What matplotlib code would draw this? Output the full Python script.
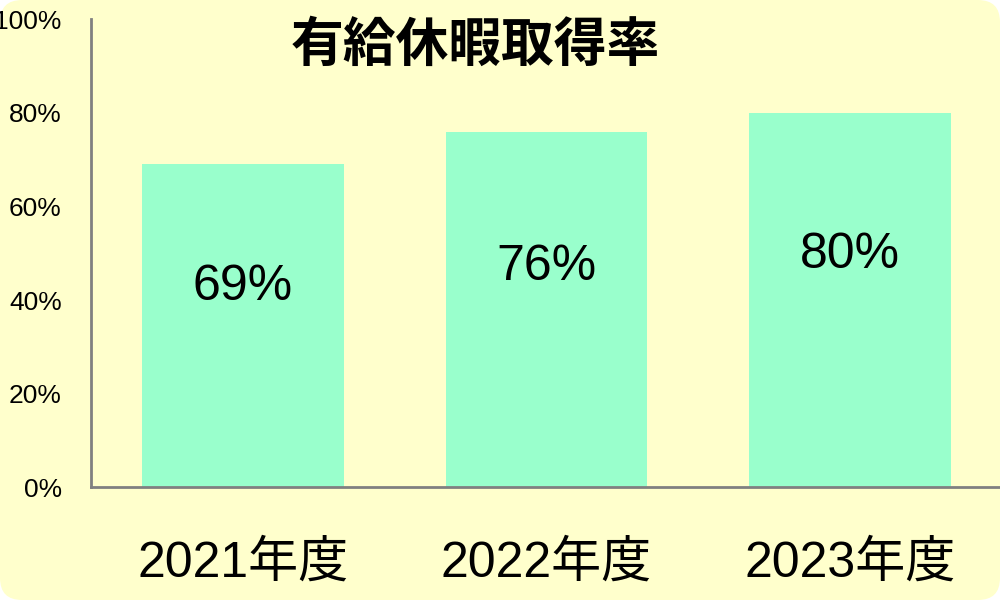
import matplotlib
matplotlib.use('Agg')
import matplotlib.pyplot as plt
from matplotlib.patches import FancyBboxPatch

# 有給休暇取得率
years = ['2021年度', '2022年度', '2023年度']
rates = [69, 76, 80]
yticks = [0, 20, 40, 60, 80, 100]

plt.rcParams['font.family'] = ['Liberation Sans', 'Noto Sans CJK JP', 'DejaVu Sans']

fig = plt.figure(figsize=(10, 6), dpi=100, facecolor='white')
bg = FancyBboxPatch((0, 0), 1000, 600, boxstyle='round,pad=0,rounding_size=22',
                    transform=None, facecolor='#FFFFCC', edgecolor='none', zorder=-10)
fig.patches.append(bg)

ax = fig.add_axes([0.091, 0.188, 0.911, 0.78])
ax.set_facecolor('none')
ax.set_zorder(1)

x = range(len(years))
ax.bar(x, rates, width=0.665, color='#99FFCC', zorder=2)
for i, v in zip(x, rates):
    ax.text(i, v * 0.62, f'{v}%', ha='center', va='center', fontsize=36, color='black', zorder=3)

ax.set_xlim(-0.5, 2.5)
ax.set_ylim(0, 100)
ax.set_yticks(yticks)
ax.set_yticklabels([f'{t}%' for t in yticks], fontsize=19)
ax.set_xticks(list(x))
ax.set_xticklabels(years, fontsize=36)
ax.tick_params(axis='y', length=0, pad=21)
ax.tick_params(axis='x', length=0, pad=38)

for s in ['top', 'right']:
    ax.spines[s].set_visible(False)
for s in ['left', 'bottom']:
    ax.spines[s].set_color('#808080')
    ax.spines[s].set_linewidth(2)

fig.text(0.475, 1 - 45 / 600, '有給休暇取得率', ha='center', va='center',
         fontsize=38, fontweight='bold', family=['Noto Sans CJK JP', 'DejaVu Sans'], zorder=5)

fig.savefig('out.png', dpi=100, facecolor=fig.get_facecolor())
